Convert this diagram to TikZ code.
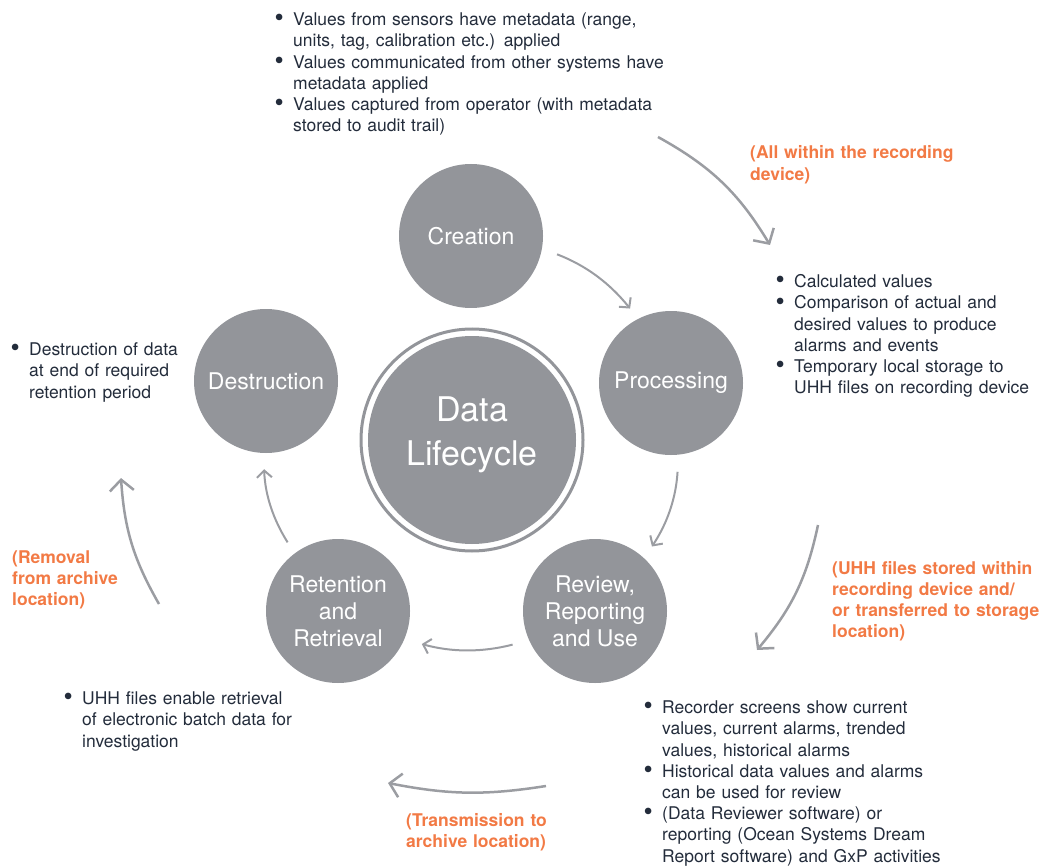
\documentclass[tikz,border=0pt]{standalone}
\usepackage{fontspec}
\setmainfont{TeX Gyre Heros}
\usepackage{tikz}
\usetikzlibrary{shapes,arrows,arrows.meta}
\usetikzlibrary{positioning}
\usetikzlibrary{calc}
\definecolor{mygray}{RGB}{147,149,154}
\definecolor{myarrow}{RGB}{155,157,162}
\definecolor{myorange}{RGB}{242,122,69}
\definecolor{mydark}{RGB}{35,44,59}
\newcommand\mydot{\makebox[0pt]{\raisebox{-1.2pt}{\scalebox{1.5}{\textbullet}}}}
\newcommand\mybullets[1]{%
  \begin{list}{\mydot}{\setlength\leftmargin{14pt}\setlength\labelwidth{0pt}%
  \setlength\labelsep{14pt}\setlength\itemsep{0pt}\setlength\parsep{0pt}%
  \setlength\topsep{0pt}\setlength\partopsep{0pt}}#1\end{list}}
\newcommand\mystage[3]{%
  \node[stage] (#1) at #2 {#3};
}

\begin{document}
\begin{tikzpicture}[
x=1pt, y=-1pt,
>={Straight Barb[length=7pt,width=15pt]},
stage/.style={
  circle,
  fill=mygray,
  minimum size=144pt,
  inner sep=0pt,
  text=white,
  align=center,
  font=\fontsize{23}{27}\selectfont},
ring/.style={draw=mygray, line width=3pt},
link/.style={->, draw=myarrow, line width=2pt},
biglink/.style={-{Straight Barb[length=11pt,width=24pt]}, draw=myarrow, line width=2.5pt},
bullets/.style={anchor=base west, inner sep=0pt, text width=#1, align=left,
  text=mydark, font=\fontsize{17.5}{21.2}\selectfont},
orangenote/.style={anchor=base west, inner sep=0pt, text width=#1, align=left,
  text=myorange, font=\fontsize{17.5}{21.2}\selectfont\bfseries}
]
\useasboundingbox (0,0) rectangle (1059,866);

% centre
\fill[mygray] (472,440) circle[radius=104pt];
\draw[ring] (472,440) circle[radius=111pt];
\node[text=white, align=center, font=\fontsize{34}{44}\selectfont] (lifecycle) at (472,435) {Data\\Lifecycle};

% stages
\mystage{creation}{(471,236)}{Creation}
\mystage{processing}{(671,383)}{Processing}
\mystage{review}{(595,611)}{Review,\\Reporting\\and Use}
\mystage{retention}{(338,611)}{Retention\\and\\Retrieval}
\mystage{destruction}{(266,381)}{Destruction}

\draw [link, shorten <=16pt, shorten >=13pt] (creation.-10) to [bend left=15] (processing.117);
\draw [link, shorten <=17pt, shorten >=14pt] (processing.-84) to [bend left=15] (review.47);
\draw [link, shorten <=17pt, shorten >=18pt] (review.204) to [bend left=15] (retention.-23);
\draw [link, shorten <=13pt, shorten >=16pt] (retention.127) to [bend left=15] (destruction.-92);

% notes
\node[bullets=420pt] (creationnotes) at (279,4.5) {\mybullets{%
  \item Values from sensors have metadata (range,\\units, tag, calibration etc.) applied
  \item Values communicated from other systems have\\metadata applied
  \item Values captured from operator (with metadata\\stored to audit trail)}};
\node[bullets=280pt] (processingnotes) at (780,266.5) {\mybullets{%
  \item Calculated values
  \item Comparison of actual and\\desired values to produce\\alarms and events
  \item Temporary local storage to\\UHH files on recording device}};
\node[bullets=300pt] (reviewnotes) at (648,692.5) {\mybullets{%
  \item Recorder screens show current\\values, current alarms, trended\\values, historical alarms
  \item Historical data values and alarms\\can be used for review
  \item (Data Reviewer software) or\\reporting (Ocean Systems Dream\\Report software) and GxP activities}};
\node[bullets=260pt] (retentionnotes) at (68,683.5) {\mybullets{%
  \item UHH files enable retrieval\\of electronic batch data for\\investigation}};
\node[bullets=180pt] (destructionnotes) at (15,334.5) {\mybullets{%
  \item Destruction of data\\at end of required\\retention period}};

\node[orangenote=220pt] (within) at (750,159) {(All within the recording\\device)};
\node[orangenote=230pt] (stored) at (832,574) {(UHH files stored within\\recording device and/\\or transferred to storage\\location)};
\node[orangenote=160pt] (transmit) at (406,826) {(Transmission to\\archive location)};
\node[orangenote=130pt] (removal) at (12,563) {(Removal\\from archive\\location)};

% outer arrows
\coordinate (within-a) at (658,137);
\coordinate (within-b) at (770,245);
\coordinate (stored-a) at (818,525);
\coordinate (stored-b) at (757,650);
\coordinate (transmit-a) at (546,786);
\coordinate (transmit-b) at (388,783);
\coordinate (removal-a) at (159,604);
\coordinate (removal-b) at (121,478);
\draw [biglink] (within-a) to [bend left=15] (within-b);
\draw [biglink] (stored-a) to [bend left=14] (stored-b);
\draw [biglink] (transmit-a) to [bend left=10] (transmit-b);
\draw [biglink] (removal-a) to [bend left=13] (removal-b);
\end{tikzpicture}
\end{document}
